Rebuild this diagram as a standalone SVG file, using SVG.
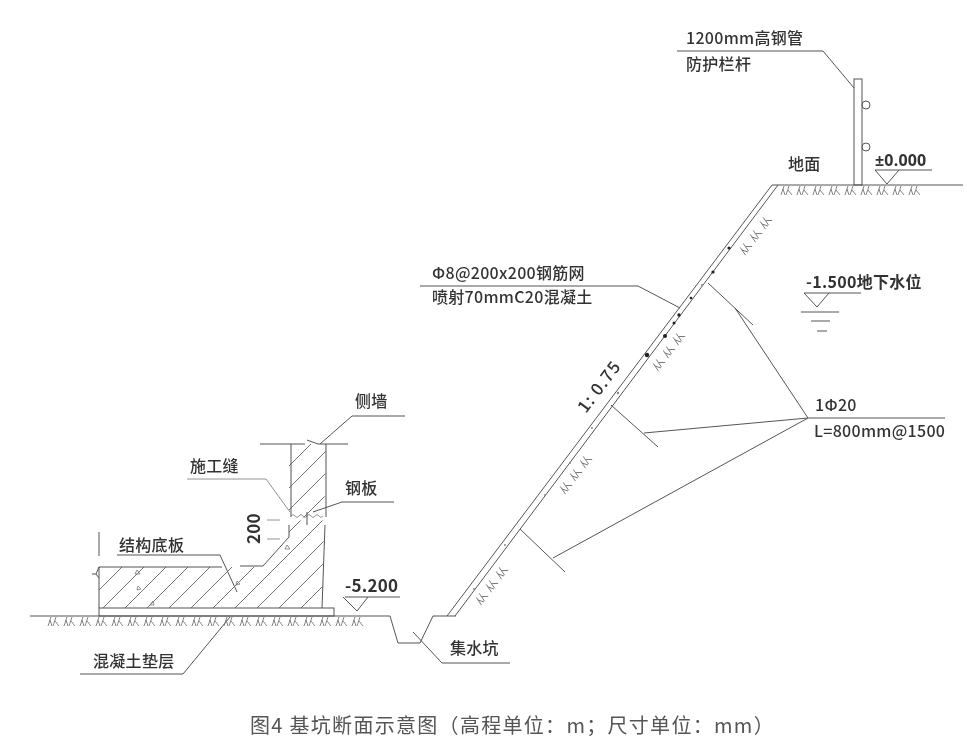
<svg xmlns="http://www.w3.org/2000/svg" width="967" height="748" viewBox="0 0 967 748">
<style>
g.b{filter:url(#soft)}
text{font-family:"Noto Sans CJK SC","Noto Sans",sans-serif;font-size:16px;fill:#333;letter-spacing:.3px;font-weight:500}
.l{fill:none;stroke:#555;stroke-width:1}
.t{fill:none;stroke:#777;stroke-width:.8}
.h{fill:none;stroke:#777;stroke-width:.9}
.d{fill:#222}
.f{fill:#888}
.n{font-size:17px;font-weight:700;letter-spacing:.2px}
</style>
<defs>
<filter id="soft" x="0" y="0" width="967" height="748" filterUnits="userSpaceOnUse"><feGaussianBlur stdDeviation="0.35"/></filter>
<path id="s" class="h" d="M-6 9L-3 0M-4 3L-2 9M-1 9L2 0M1 4L5 9"/>
<pattern id="hatch" width="22" height="22" patternUnits="userSpaceOnUse" patternTransform="translate(4 3)"><path d="M-1 23L23-1M-1 1L1-1M21 23L23 21" stroke="#666" stroke-width=".9" fill="none"/></pattern>
</defs>
<rect width="967" height="748" fill="#fff"/>
<g id="connectors" class="b">
<path class="l" d="M677 51H823L854 88"/>
<path class="l" d="M420 286H638L680 308"/>
<path class="l" d="M808 418L735 308M808 418L644 433M808 418L553 558M808 418H945"/>
<path class="l" d="M320 444L352 416H405"/>
<path class="t" d="M187 479H266L290 512"/>
<path class="l" d="M313 512L342 502H394"/>
<path class="l" d="M117 555H220L237 592"/>
<path class="l" d="M413 632L442 663H510"/>
<path class="l" d="M80 674H183L230 617"/>
</g>
<g id="ground" class="b">
<path class="l" d="M30 616H390L398 643H420L433 616H447L772 185H963M455 616L778 185"/>
<path class="l" d="M447 616H456"/>
<g>
<use href="#s" x="54" y="617"/><use href="#s" x="70" y="617"/><use href="#s" x="86" y="617"/><use href="#s" x="102" y="617"/><use href="#s" x="118" y="617"/><use href="#s" x="134" y="617"/><use href="#s" x="150" y="617"/><use href="#s" x="166" y="617"/><use href="#s" x="182" y="617"/><use href="#s" x="198" y="617"/><use href="#s" x="214" y="617"/><use href="#s" x="230" y="617"/><use href="#s" x="246" y="617"/><use href="#s" x="262" y="617"/><use href="#s" x="278" y="617"/><use href="#s" x="294" y="617"/><use href="#s" x="310" y="617"/><use href="#s" x="326" y="617"/><use href="#s" x="342" y="617"/><use href="#s" x="358" y="617"/>
<use href="#s" x="787" y="186"/><use href="#s" x="803" y="186"/><use href="#s" x="819" y="186"/><use href="#s" x="835" y="186"/><use href="#s" x="851" y="186"/><use href="#s" x="867" y="186"/><use href="#s" x="883" y="186"/><use href="#s" x="899" y="186"/><use href="#s" x="915" y="186"/>
</g>
<g>
<use href="#s" transform="translate(742 245) rotate(-53)"/><use href="#s" transform="translate(752 232) rotate(-53)"/><use href="#s" transform="translate(762 219) rotate(-53)"/>
<use href="#s" transform="translate(655 361) rotate(-53)"/><use href="#s" transform="translate(665 348) rotate(-53)"/><use href="#s" transform="translate(675 335) rotate(-53)"/>
<use href="#s" transform="translate(562 484) rotate(-53)"/><use href="#s" transform="translate(572 471) rotate(-53)"/><use href="#s" transform="translate(582 458) rotate(-53)"/>
<use href="#s" transform="translate(478 595) rotate(-53)"/><use href="#s" transform="translate(488 582) rotate(-53)"/><use href="#s" transform="translate(498 569) rotate(-53)"/>
</g>
<g>
<circle class="d" cx="729" cy="248" r="1.6"/><circle class="d" cx="713" cy="272" r="1.6"/><circle class="d" cx="691" cy="298" r="1.3"/><circle class="d" cx="679" cy="315" r="1.7"/><circle class="d" cx="674" cy="323" r="1.5"/><circle class="d" cx="665" cy="336" r="2"/><circle class="d" cx="647" cy="355" r="2.2"/>
<circle class="f" cx="702" cy="285" r="1"/><circle class="f" cx="618" cy="393" r="1.2"/><circle class="f" cx="592" cy="428" r="1"/><circle class="f" cx="570" cy="463" r="1"/><circle class="f" cx="545" cy="495" r="1"/><circle class="f" cx="505" cy="545" r="1"/><circle class="f" cx="474" cy="589" r="1"/>
</g>
</g>
<g id="railing" class="b">
<rect class="l" x="854" y="79" width="8" height="106"/>
<circle class="l" cx="866" cy="105" r="4"/>
<circle class="l" cx="866" cy="147" r="4"/>
</g>
<g id="structure" class="b">
<path d="M99 567H260L289 537V444H326L322 608H99Z" fill="url(#hatch)"/>
<path d="M291 519h34" stroke="#fff" stroke-width="3"/>
<path class="l" d="M99 608V567M99 556V532M99 567L96 574H92M96 574L99 578"/>
<path class="l" d="M99 567H222M240 566H263L289 537V525M291 517V444M326 444V517M325 525L322 608"/>
<path class="l" d="M260 444H305M307 440L318 444H348"/>
<rect class="l" x="99" y="608" width="235" height="8"/>
<path class="t" d="M291 516q2 -3 4 0t4 0t4 0t4 0t4 0t4 0t4 0t4 0"/>
<path class="l" d="M307 512V525"/>
<path class="t" d="M267 520H280M267 539H280"/>
<path class="t" d="M137 570l3 4l-5 0zM287 545l3 4l-5 0zM138 586l3 3l-4 1zM150 605l3 -4l1 4zM237 581l3 3l-4 1z"/>
</g>
<g id="levels" class="b">
<path class="l" d="M875 170H932M875 170L887 184L899 170"/>
<path class="l" d="M345 597H400M343 597L357 611L368 597"/>
<path class="l" d="M804 293H861M804 293L817 307L829 293M801 312H839M811 321H830M817 331H827"/>
</g>
<g id="anchors" class="b">
<path class="l" d="M708 283L753 325M611 405L658 447M520 529L565 572"/>
</g>
<g id="labels" class="b">
<text x="686" y="44">1200mm高钢管</text>
<text x="686" y="70">防护栏杆</text>
<text x="788" y="170">地面</text>
<text x="875" y="166" class="n" style="font-family:'Noto Sans',sans-serif;font-size:16px">±0.000</text>
<text x="432" y="279">Φ8@200x200钢筋网</text>
<text x="432" y="303">喷射70mmC20混凝土</text>
<text x="806" y="288" style="font-weight:700">-1.500地下水位</text>
<text x="815" y="411">1Φ20</text>
<text x="814" y="437">L=800mm@1500</text>
<text transform="translate(586 414) rotate(-53)" style="font-size:17px;letter-spacing:1px">1: 0.75</text>
<text x="355" y="407">侧墙</text>
<text x="190" y="472">施工缝</text>
<text x="345" y="494">钢板</text>
<text transform="translate(260 544) rotate(-90)" class="n">200</text>
<text x="119" y="551">结构底板</text>
<text x="345" y="592" class="n">-5.200</text>
<text x="450" y="654">集水坑</text>
<text x="93" y="667">混凝土垫层</text>
<text x="250" y="733" style="font-size:20px;fill:#555;font-weight:400;letter-spacing:1.3px">图4 基坑断面示意图（高程单位：m；尺寸单位：mm）</text>
</g>
</svg>
